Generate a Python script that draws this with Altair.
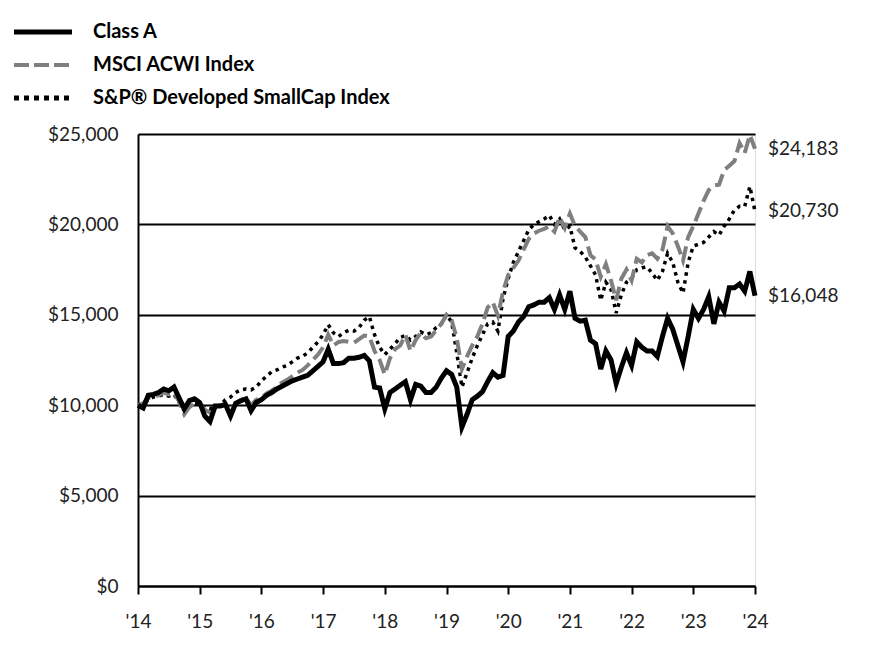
import altair as alt
import pandas as pd

# ---- data (growth of $10,000, monthly, Jan 2014 -> Jan 2024) ----
months = list(range(121))

class_a = [
    10000, 9850, 10550, 10600, 10700, 10900, 10800, 11000, 10400, 9800, 10250, 10350,
    10150, 9400, 9100, 9950, 9950, 10050, 9400, 10100, 10250, 10350, 9700, 10150,
    10300, 10550, 10700, 10900, 11050, 11200, 11350, 11450, 11550, 11650, 11900, 12150,
    12400, 13100, 12300, 12300, 12350, 12600, 12600, 12650, 12750, 12450, 11000, 10950,
    9800, 10700, 10900, 11100, 11300, 10300, 11150, 11050, 10700, 10700, 11000, 11500,
    11900, 11700, 11000, 8800, 9500, 10300, 10500, 10750, 11300, 11800, 11550, 11650,
    13800, 14100, 14600, 14900, 15450, 15550, 15700, 15700, 15950, 15300, 16100, 15300,
    16300, 14800, 14650, 14700, 13600, 13400, 12000, 13000, 12500, 11200, 12100, 12900,
    12200, 13500, 13200, 13000, 13000, 12700, 13800, 14800, 14200, 13300, 12400, 13800,
    15300, 14800, 15300, 16000, 14500, 15700, 15200, 16500, 16500, 16700, 16300, 17400,
    16048,
]

msci = [
    10000, 10100, 10400, 10500, 10550, 10700, 10600, 10700, 10200, 9500, 9900, 10100,
    10050, 9750, 9600, 9900, 10000, 9950, 9700, 10100, 10300, 10400, 10000, 10300,
    10400, 10650, 10800, 11000, 11250, 11400, 11600, 11800, 11950, 12200, 12500, 12800,
    13200, 13900, 13300, 13500, 13550, 13500, 13450, 13650, 13850, 13800, 13000, 12500,
    11700, 12600, 13100, 13300, 13900, 13000, 13600, 14000, 13700, 13800, 14150, 14500,
    15000, 14700, 13700, 12000, 12700, 13300, 13800, 14500, 15400, 15700, 14950, 16300,
    17200, 17600, 18000, 18600, 19200, 19500, 19650, 19750, 19900, 19600, 20400, 19800,
    20600, 19900, 19600, 19300, 18300, 18050, 17100, 17800, 16900, 15800, 17000, 17500,
    16900, 18100, 17900, 18300, 18400, 18100, 18600, 19900, 19500, 18800, 18000, 19300,
    19900, 20600, 21300, 21900, 22150, 22200, 23000, 23250, 23500, 24500, 23950, 24950,
    24183,
]

sp_smallcap = [
    10000, 10050, 10300, 10450, 10500, 10600, 10500, 10600, 10150, 9700, 10000, 10100,
    10100, 9850, 9800, 9950, 10000, 10300, 10450, 10700, 10850, 10900, 10850, 11000,
    11350, 11600, 11850, 11950, 12100, 12200, 12400, 12600, 12700, 12900, 13200, 13500,
    13900, 14450, 14000, 13800, 14000, 14150, 14100, 14300, 14700, 14900, 13900, 13200,
    12800, 13100, 13400, 13750, 13850, 13600, 13800, 14050, 13900, 14000, 14300, 14500,
    15000, 14600, 12900, 11000, 11800, 12600, 13300, 13900, 14500, 14600, 14100, 15900,
    17000, 17900, 18500, 19100, 19700, 20000, 20150, 20300, 20500, 20000, 20300, 19700,
    19900, 18700, 18500, 18200, 17700, 17200, 15800, 16800, 16400, 15100, 16100, 16800,
    17000, 17500, 17600, 17650, 17300, 16900, 17400, 18400, 17900, 16800, 16200, 17900,
    18800, 18900, 19000, 19300, 19600, 19400, 19900, 20300, 20800, 21000, 21000, 22100,
    20730,
]

series_names = ["Class A", "MSCI ACWI Index", "S&P\u00ae Developed SmallCap Index"]
year_ticks = [0, 12, 24, 36, 48, 60, 72, 84, 96, 108, 120]
dollar_ticks = [0, 5000, 10000, 15000, 20000, 25000]

rows = []
for name, vals in zip(series_names, [class_a, msci, sp_smallcap]):
    for m, v in zip(months, vals):
        rows.append({"series": name, "month": m, "value": v})
df = pd.DataFrame(rows)

end_df = pd.DataFrame({
    "series": series_names,
    "month": [months[-1]] * 3,
    "value": [class_a[-1], msci[-1], sp_smallcap[-1]],
})

FONT = "Lato"
TXT = "#222222"

x_enc = alt.X(
    "month:Q",
    scale=alt.Scale(domain=[0, 120], nice=False, zero=False),
    axis=alt.Axis(
        values=year_ticks,
        labelExpr="\"'\" + (14 + datum.value / 12)",
        grid=False,
        domainColor="black",
        domainWidth=2,
        tickColor="black",
        tickWidth=2,
        tickSize=8,
        labelPadding=18,
        labelFont=FONT,
        labelFontSize=19,
        labelColor=TXT,
        labelFlush=False,
        title=None,
    ),
)
y_enc = alt.Y(
    "value:Q",
    scale=alt.Scale(domain=[0, 25000], nice=False),
    axis=alt.Axis(
        values=dollar_ticks,
        format="$,.0f",
        grid=True,
        gridColor="black",
        gridWidth=2,
        domainColor="black",
        domainWidth=2,
        ticks=False,
        labelPadding=20,
        labelFont=FONT,
        labelFontSize=19,
        labelColor=TXT,
        title=None,
    ),
)

base = alt.Chart(df)

styles = {
    series_names[0]: dict(color="black", strokeWidth=5),
    series_names[1]: dict(color="#7f7f7f", strokeWidth=4, strokeDash=[15, 6]),
    series_names[2]: dict(color="black", strokeWidth=3.5, strokeDash=[3.5, 4.5]),
}


def line_layer(name):
    return (
        base.transform_filter(alt.FieldEqualPredicate(field="series", equal=name))
        .mark_line(strokeJoin="miter", strokeCap="butt", **styles[name])
        .encode(x=x_enc, y=y_enc, order="month:Q")
    )


lines = [line_layer(series_names[2]), line_layer(series_names[1]), line_layer(series_names[0])]

end_labels = alt.Chart(end_df).mark_text(
    align="left", baseline="middle", dx=13, font=FONT, fontSize=19, color=TXT
).encode(x=x_enc, y=y_enc, text=alt.Text("value:Q", format="$,.0f"))

# ---- legend drawn at the top-left, outside the plot area ----
legend_rows_y = [-102, -69, -36]
legend_styles = {
    series_names[0]: dict(color="black", strokeWidth=5),
    series_names[1]: dict(color="#7f7f7f", strokeWidth=4, strokeDash=[15, 5]),
    series_names[2]: dict(color="black", strokeWidth=5, strokeDash=[5, 5]),
}
legend_layers = []
for name, ly in zip(series_names, legend_rows_y):
    ldf = pd.DataFrame({"series": [name]})
    legend_layers.append(
        alt.Chart(ldf).mark_rule(strokeCap="butt", **legend_styles[name]).encode(
            x=alt.value(-124), x2=alt.value(-66), y=alt.value(ly)
        )
    )
    legend_layers.append(
        alt.Chart(ldf).mark_text(
            align="left", baseline="middle", font=FONT, fontSize=20, fontWeight="bold", color="black"
        ).encode(x=alt.value(-45), y=alt.value(ly), text="series:N")
    )

chart = alt.layer(*lines, end_labels, *legend_layers).properties(
    width=617,
    height=452,
    autosize="none",
    padding={"left": 138, "top": 134, "right": 121, "bottom": 86},
).configure_view(stroke=None).configure(background="white")

chart.save("out.html", embed_options={"renderer": "svg", "actions": False})
